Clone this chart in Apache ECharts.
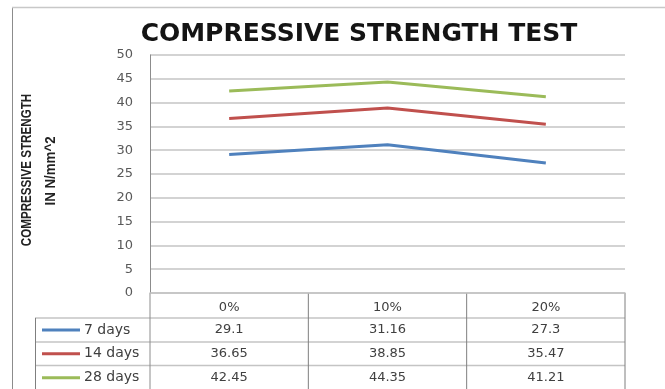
<!DOCTYPE html>
<html>
<head>
<meta charset="utf-8">
<script src="https://cdn.jsdelivr.net/npm/echarts@6/dist/echarts.min.js"></script>
<style>
  html, body { margin: 0; padding: 0; background: #fff; }
  #chart { width: 665px; height: 389px; }
</style>
</head>
<body>
<div id="chart"></div>
<script>
// data
const categories = ["0%", "10%", "20%"];
const seriesNames = ["7 days", "14 days", "28 days"];
const days7 = [29.1, 31.16, 27.3];
const days14 = [36.65, 38.85, 35.47];
const days28 = [42.45, 44.35, 41.21];
const colors = ["#4f81bd", "#c0504d", "#9bbb59"];

const allSeries = [days7, days14, days28];
const chart = echarts.init(document.getElementById("chart"));

const gridLeft = 150, gridRight = 40, gridTop = 55, gridBottom = 96;
const tableFont = "DejaVu Sans";

chart.setOption({
  animation: false,
  title: {
    text: "COMPRESSIVE STRENGTH TEST",
    left: 354,
    top: 17,
    textAlign: "center",
    textStyle: { fontFamily: "DejaVu Sans", fontWeight: "bold", fontSize: 25, color: "#141414" },
  },
  grid: {
    left: gridLeft,
    right: gridRight,
    top: gridTop,
    bottom: gridBottom,
    outerBoundsMode: "none",
  },
  xAxis: {
    type: "category",
    data: categories,
    boundaryGap: true,
    axisLine: { lineStyle: { color: "#c4c4c4", width: 1.5 } },
    axisTick: { show: false },
    axisLabel: { margin: 8, fontFamily: tableFont, fontSize: 13, color: "#404040" },
  },
  yAxis: {
    type: "value",
    min: 0,
    max: 50,
    interval: 5,
    axisLine: { show: true, lineStyle: { color: "#8c8c8c", width: 1 } },
    axisTick: { show: false },
    axisLabel: { margin: 17, fontFamily: tableFont, fontSize: 13, color: "#595959" },
    splitLine: { lineStyle: { color: "#c4c4c4", width: 1.5 } },
  },
  series: allSeries.map((data, i) => ({
    type: "line",
    name: seriesNames[i],
    data: data,
    symbol: "none",
    lineStyle: { color: colors[i], width: 3 },
    itemStyle: { color: colors[i] },
  })),
});

// data table under the plot, placed from the category axis
const w = 665, h = 389;
const axisY = h - gridBottom;
const rowTop = [axisY, axisY + 25, axisY + 49, axisY + 72.5];
const rowBottom = h;
const tableRight = w - gridRight;
const centers = categories.map((c, i) => chart.convertToPixel({ xAxisIndex: 0 }, i));
const band = (tableRight - gridLeft) / categories.length;

const graphics = [];
const hline = (x1, x2, y, color, width) =>
  graphics.push({ type: "line", shape: { x1, y1: y, x2, y2: y }, style: { stroke: color, lineWidth: width }, silent: true });
const vline = (x, y1, y2, color, width) =>
  graphics.push({ type: "line", shape: { x1: x, y1, x2: x, y2 }, style: { stroke: color, lineWidth: width }, silent: true });

// outer chart frame
vline(12.5, 7, h, "#8c8c8c", 1);
hline(12, w, 7.5, "#c8c8c8", 1.5);

// table rules
for (let r = 1; r < rowTop.length; r++) hline(35, tableRight, rowTop[r], "#c4c4c4", 1.5);
vline(35.5, rowTop[1], rowBottom, "#7f7f7f", 1);
vline(gridLeft, axisY, rowBottom, "#8c8c8c", 1);
for (let c = 1; c <= categories.length; c++) vline(gridLeft + band * c, axisY, rowBottom, "#7f7f7f", 1);

// legend keys and values
allSeries.forEach((data, i) => {
  const cy = (rowTop[i + 1] + (rowTop[i + 2] || rowBottom + 1)) / 2;
  graphics.push({ type: "line", shape: { x1: 42, y1: cy, x2: 80, y2: cy }, style: { stroke: colors[i], lineWidth: 3 }, silent: true });
  graphics.push({
    type: "text", x: 84, y: cy,
    style: { text: seriesNames[i], font: "14px " + tableFont, fill: "#404040", textAlign: "left", textVerticalAlign: "middle" },
  });
  data.forEach((v, j) => {
    graphics.push({
      type: "text", x: centers[j], y: cy,
      style: { text: String(v), font: "13px " + tableFont, fill: "#404040", textAlign: "center", textVerticalAlign: "middle" },
    });
  });
});

// y axis name, two rotated lines (narrowed along the text direction)
graphics.push({
  type: "text", x: 27, y: 170, rotation: Math.PI / 2, scaleX: 0.83,
  style: { text: "COMPRESSIVE STRENGTH", font: "bold 14px 'Liberation Sans'", fill: "#222", textAlign: "center", textVerticalAlign: "middle" },
});
graphics.push({
  type: "text", x: 51, y: 171, rotation: Math.PI / 2, scaleX: 0.95,
  style: { text: "IN N/mm^2", font: "bold 14px 'Liberation Sans'", fill: "#222", textAlign: "center", textVerticalAlign: "middle" },
});

chart.setOption({ graphic: graphics });
</script>
</body>
</html>
